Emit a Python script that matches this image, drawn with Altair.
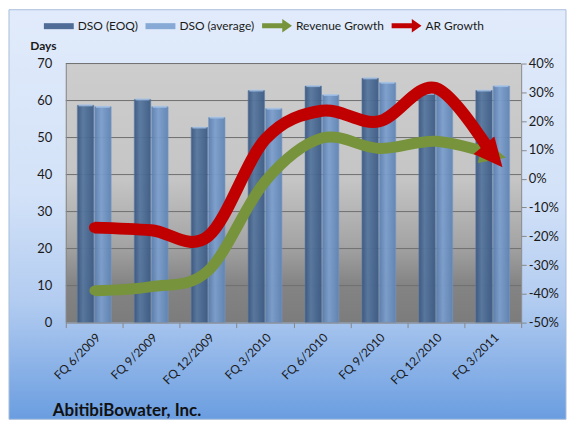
import altair as alt
import pandas as pd

# ---- data ----
cats = ["FQ 6/2009", "FQ 9/2009", "FQ 12/2009", "FQ 3/2010",
        "FQ 6/2010", "FQ 9/2010", "FQ 12/2010", "FQ 3/2011"]
dso_eoq = [58.7, 60.3, 52.7, 62.7, 63.9, 66.0, 61.8, 62.7]
dso_avg = [58.3, 58.3, 55.4, 57.8, 61.5, 64.8, 61.6, 63.9]
rev_growth = [-38.9, -37.5, -32.0, -1.0, 14.1, 10.5, 13.0, 8.5]
ar_growth = [-17.0, -17.9, -20.0, 13.6, 23.6, 19.9, 31.5, 8.0]
series_names = ["DSO (EOQ)", "DSO (average)", "Revenue Growth", "AR Growth"]
left_ticks = [0, 10, 20, 30, 40, 50, 60, 70]
right_ticks = [-50, -40, -30, -20, -10, 0, 10, 20, 30, 40]
title_text = "AbitibiBowater, Inc."

FONT = "Lato"
W, H = 457, 260

bars_df = pd.DataFrame(
    [{"cat": c, "series": "DSO (EOQ)", "value": v} for c, v in zip(cats, dso_eoq)]
    + [{"cat": c, "series": "DSO (average)", "value": v} for c, v in zip(cats, dso_avg)]
)
lines_df = pd.DataFrame(
    [{"cat": c, "series": "Revenue Growth", "pct": v, "i": i} for i, (c, v) in enumerate(zip(cats, rev_growth))]
    + [{"cat": c, "series": "AR Growth", "pct": v, "i": i} for i, (c, v) in enumerate(zip(cats, ar_growth))]
)
grid_df = pd.DataFrame({"value": left_ticks[1:]})
legend_df = pd.DataFrame({"s": series_names})
title_df = pd.DataFrame({"t": [title_text]})

def grad(stops, vertical=False):
    return alt.LinearGradient(
        gradient="linear",
        stops=[alt.GradientStop(color=c, offset=o) for o, c in stops],
        x1=0, y1=0, x2=0 if vertical else 1, y2=1 if vertical else 0,
    )

x_axis = alt.Axis(title=None, labelAngle=-45, labelFont=FONT, labelFontSize=12,
                  labelColor="#1a1a1a", tickBand="extent", tickColor="#888888",
                  domainColor="#888888", tickSize=5, labelPadding=4, zindex=1)
x_enc = alt.X("cat:N", sort=cats,
              scale=alt.Scale(domain=cats, paddingInner=0, paddingOuter=0),
              axis=x_axis)

left_axis = alt.Axis(title="Days", titleAngle=0, titleX=-23, titleY=-14,
                     titleAlign="center", titleBaseline="alphabetic",
                     titleFont=FONT, titleFontSize=12, titleFontWeight="bold",
                     titleColor="#1a1a1a",
                     values=left_ticks, labelFont=FONT, labelFontSize=13,
                     labelColor="#1a1a1a", ticks=False, labelPadding=14,
                     domainColor="#888888", grid=False, zindex=1)
y_left = alt.Y("value:Q", scale=alt.Scale(domain=[0, 70], nice=False), axis=left_axis)

right_axis = alt.Axis(title=None, orient="right", values=right_ticks,
                      labelExpr="datum.value + '%'", labelFont=FONT, labelFontSize=13,
                      labelColor="#1a1a1a", tickColor="#888888", tickSize=5,
                      labelPadding=2, domainColor="#888888", grid=False, zindex=1)
y_right = alt.Y("pct:Q", scale=alt.Scale(domain=[-50, 40], nice=False), axis=right_axis)

# ---- decoration: chart background and plot-area background ----
bg = alt.Chart(title_df).mark_rect(
    color=grad([(0, "#e1ebfb"), (0.45, "#d3e2f8"), (0.72, "#b1cbf0"), (1, "#6a9de0")], vertical=True),
    stroke="#a9bedb", strokeWidth=1,
).encode(x=alt.value(-57), x2=alt.value(502), y=alt.value(-54), y2=alt.value(357))

plot_bg = alt.Chart(title_df).mark_rect(
    color=grad([(0, "#cdcdcd"), (0.45, "#c5c5c5"), (0.7, "#a4a4a4"), (0.85, "#848484"), (1, "#7c7c7c")], vertical=True),
).encode(x=alt.value(0), x2=alt.value(W), y=alt.value(0), y2=alt.value(H))

# ---- left scale layers ----
grid = alt.Chart(grid_df).mark_rule(color="#6f6f6f", strokeWidth=1).encode(y=y_left)

x_off = alt.XOffset("series:N",
                    scale=alt.Scale(domain=["DSO (EOQ)", "DSO (average)"],
                                    paddingInner=0.05, paddingOuter=0.665))

bar_eoq = alt.Chart(bars_df).transform_filter(alt.datum.series == "DSO (EOQ)").mark_bar(
    color=grad([(0, "#3b5780"), (0.35, "#57779f"), (1, "#3d5b85")]),
    stroke="#5f7fa8", strokeWidth=0.6, opacity=0.95,
).encode(x=x_enc, xOffset=x_off, y=y_left)

bar_avg = alt.Chart(bars_df).transform_filter(alt.datum.series == "DSO (average)").mark_bar(
    color=grad([(0, "#5c7fae"), (0.4, "#7c9fcd"), (1, "#6084b4")]),
    stroke="#7a9bc6", strokeWidth=0.6, opacity=0.95,
).encode(x=x_enc, xOffset=x_off, y=y_left)

bar_caps = alt.Chart(bars_df).mark_tick(color="#a9c7ec", thickness=2, size=14).encode(
    x=x_enc, xOffset=x_off, y=y_left)

left_layer = alt.layer(grid, bar_eoq, bar_avg, bar_caps)

# ---- right scale layers (growth lines with arrow heads) ----
arrow_path = "M0.9,0L-0.8,-0.8L-0.8,0.8Z"

def growth(series, color, width, angle, head_size):
    base = alt.Chart(lines_df).transform_filter(alt.datum.series == series)
    line = base.mark_line(color=color, strokeWidth=width, interpolate="cardinal",
                          tension=0, strokeCap="butt").encode(x=x_enc, y=y_right, order="i:Q")
    start = base.transform_filter(alt.datum.i == 0).mark_point(
        shape="circle", filled=True, color=color, opacity=1, size=3.1416 * (width / 2) ** 2
    ).encode(x=x_enc, y=y_right)
    head = base.transform_filter(alt.datum.i == len(cats) - 1).mark_point(
        shape=arrow_path, filled=True, color=color, opacity=1, size=head_size, angle=angle
    ).encode(x=x_enc, y=y_right)
    return [line, start, head]

right_layer = alt.layer(*growth("Revenue Growth", "#77933c", 11, 15, 950),
                        *growth("AR Growth", "#c00000", 12, 50, 1150))

# ---- legend (from a hidden layer) ----
legend = alt.Legend(title=None, orient="none", legendX=-22, legendY=-53, direction="horizontal",
                    labelFont=FONT, labelFontSize=12, labelColor="#1a1a1a",
                    symbolSize=900, symbolOpacity=1, symbolStrokeWidth=0,
                    columnPadding=7, labelOffset=4, zindex=1)
bar_sym = "M-1,-0.2H1V0.2H-1Z"
arr_sym = "M-1,-0.17H0.35V-0.45L1,0L0.35,0.45V0.17H-1Z"
legend_layer = alt.Chart(legend_df).mark_point(filled=True, opacity=0).encode(
    color=alt.Color("s:N", scale=alt.Scale(domain=series_names,
                                           range=["#4f6d96", "#86a9d6", "#77933c", "#c00000"]),
                    legend=legend),
    shape=alt.Shape("s:N", scale=alt.Scale(domain=series_names,
                                           range=[bar_sym, bar_sym, arr_sym, arr_sym]),
                    legend=legend),
)

title_layer = alt.Chart(title_df).mark_text(
    align="left", baseline="alphabetic", font=FONT, fontSize=17, fontWeight="bold", color="#111111"
).encode(x=alt.value(-13), y=alt.value(354), text="t:N")

chart = alt.layer(bg, plot_bg, left_layer, right_layer, legend_layer, title_layer).resolve_scale(
    y="independent"
).properties(width=W, height=H, padding=0).configure_view(stroke=None)

chart.save("out.html", embed_options={"renderer": "svg", "actions": False})
